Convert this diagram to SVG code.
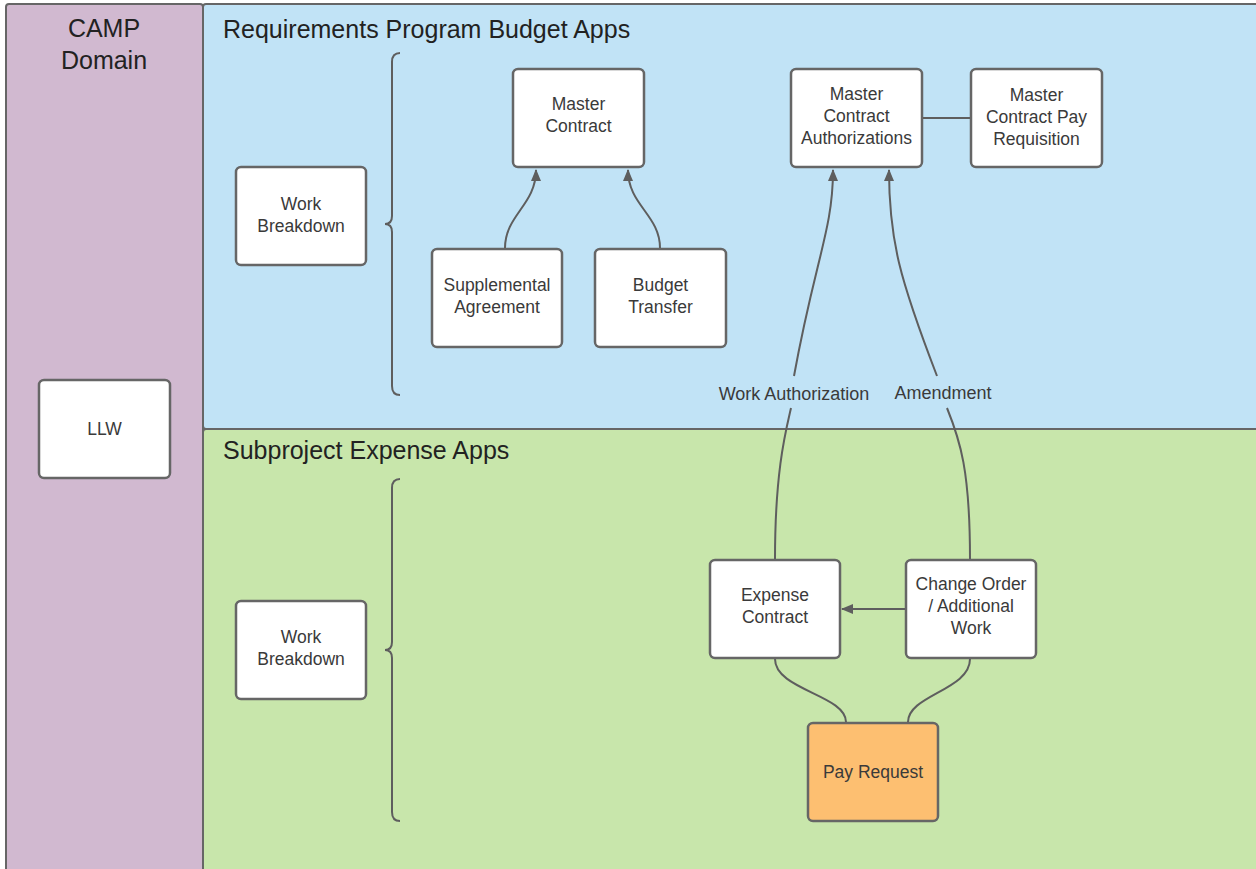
<svg xmlns="http://www.w3.org/2000/svg" width="1256" height="869" viewBox="0 0 1256 869">
<style>
.lane{stroke:#666;stroke-width:2}
.box{stroke:#666;stroke-width:2.5}
.white{fill:#fff}
.orange{fill:#FDBF71}
.t{font-family:"Liberation Sans",Arial,sans-serif;font-size:17.5px;fill:#3a3a3a;text-anchor:middle}
.title{font-family:"Liberation Sans",Arial,sans-serif;font-size:25px;fill:#222}
.c{fill:none;stroke:#5e5e5e;stroke-width:2}
.lbl{font-family:"Liberation Sans",Arial,sans-serif;font-size:18px;fill:#3a3a3a;text-anchor:middle}
</style>
<defs>
<marker id="ah" viewBox="0 0 12 12" refX="11" refY="6" markerWidth="12" markerHeight="12" orient="auto" markerUnits="userSpaceOnUse">
<path d="M0,1 L12,6 L0,11 z" fill="#5e5e5e"/>
</marker>
</defs>
<rect width="1256" height="869" fill="#fff"/>
<g id="lanes">
<rect class="lane" x="6" y="4" width="197" height="870" rx="3" fill="#D1B9D0"/>
<rect class="lane" x="203" y="4" width="1060" height="425" rx="3" fill="#C1E3F6"/>
<rect class="lane" x="203" y="429" width="1060" height="445" rx="3" fill="#C8E6AB"/>
<text class="title" x="104" y="37" text-anchor="middle">CAMP</text>
<text class="title" x="104" y="69" text-anchor="middle">Domain</text>
<text class="title" x="223" y="38">Requirements Program Budget Apps</text>
<text class="title" x="223" y="459">Subproject Expense Apps</text>
</g>
<g id="braces">
<path class="c" d="M400 53 Q392 53 392 62 L392 216 Q392 224 385 224 Q392 224 392 232 L392 386 Q392 395 400 395"/>
<path class="c" d="M400 479 Q392 479 392 488 L392 642 Q392 650 385 650 Q392 650 392 658 L392 812 Q392 821 400 821"/>
</g>
<g id="connectors">
<path class="c" d="M505 248 C505 215 536 205 536 170" marker-end="url(#ah)"/>
<path class="c" d="M660 248 C660 215 628 205 628 170" marker-end="url(#ah)"/>
<path class="c" d="M775 559 C775 470 786 430 791 408"/>
<path class="c" d="M794 376 C815 260 833 230 833 170" marker-end="url(#ah)"/>
<path class="c" d="M970 559 C970 470 960 440 947 408"/>
<path class="c" d="M937 376 C900 280 889 240 889 170" marker-end="url(#ah)"/>
<path class="c" d="M906 609 L842 609" marker-end="url(#ah)"/>
<path class="c" d="M922 118 L971 118"/>
<path class="c" d="M775 659 C775 690 846 695 846 722"/>
<path class="c" d="M970 659 C970 690 908 695 908 722"/>
<text class="lbl" x="794" y="400">Work Authorization</text>
<text class="lbl" x="943" y="399">Amendment</text>
</g>
<g id="llw"><rect class="box white" x="39" y="380" width="131" height="98" rx="5"/><text class="t" x="104.5" y="435">LLW</text></g>
<g id="wb-top"><rect class="box white" x="236" y="167" width="130" height="98" rx="5"/><text class="t" x="301" y="210">Work</text><text class="t" x="301" y="232">Breakdown</text></g>
<g id="wb-bottom"><rect class="box white" x="236" y="601" width="130" height="98" rx="5"/><text class="t" x="301" y="643">Work</text><text class="t" x="301" y="665">Breakdown</text></g>
<g id="master-contract"><rect class="box white" x="513" y="69" width="131" height="98" rx="5"/><text class="t" x="578.5" y="110">Master</text><text class="t" x="578.5" y="132">Contract</text></g>
<g id="supplemental"><rect class="box white" x="432" y="249" width="130" height="98" rx="5"/><text class="t" x="497" y="291">Supplemental</text><text class="t" x="497" y="313">Agreement</text></g>
<g id="budget-transfer"><rect class="box white" x="595" y="249" width="131" height="98" rx="5"/><text class="t" x="660.5" y="291">Budget</text><text class="t" x="660.5" y="313">Transfer</text></g>
<g id="mca"><rect class="box white" x="791" y="69" width="131" height="98" rx="5"/><text class="t" x="856.5" y="100">Master</text><text class="t" x="856.5" y="122">Contract</text><text class="t" x="856.5" y="144">Authorizations</text></g>
<g id="mcpr"><rect class="box white" x="971" y="69" width="131" height="98" rx="5"/><text class="t" x="1036.5" y="101">Master</text><text class="t" x="1036.5" y="123">Contract Pay</text><text class="t" x="1036.5" y="145">Requisition</text></g>
<g id="expense-contract"><rect class="box white" x="710" y="560" width="130" height="98" rx="5"/><text class="t" x="775" y="601">Expense</text><text class="t" x="775" y="623">Contract</text></g>
<g id="change-order"><rect class="box white" x="906" y="560" width="130" height="98" rx="5"/><text class="t" x="971" y="590">Change Order</text><text class="t" x="971" y="612">/ Additional</text><text class="t" x="971" y="634">Work</text></g>
<g id="pay-request"><rect class="box orange" x="808" y="723" width="130" height="98" rx="5"/><text class="t" x="873" y="778">Pay Request</text></g>
</svg>
